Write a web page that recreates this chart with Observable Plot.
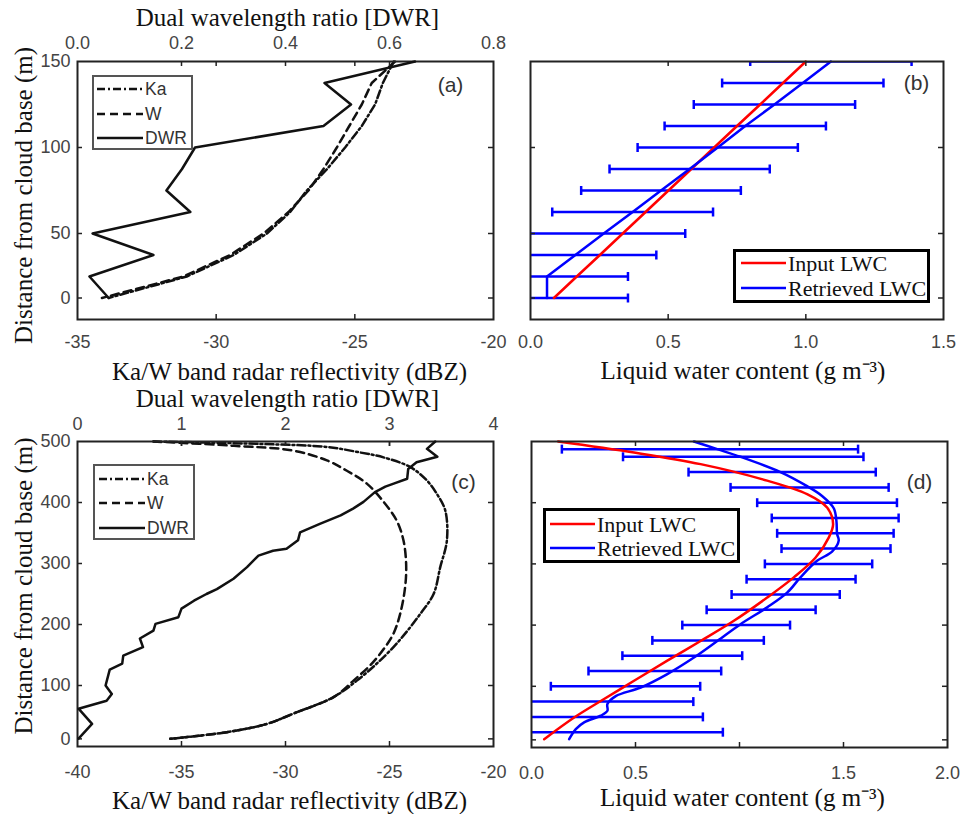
<!DOCTYPE html>
<html><head><meta charset="utf-8">
<script src="https://cdn.jsdelivr.net/npm/d3@7"></script>
<script src="https://cdn.jsdelivr.net/npm/@observablehq/plot@0.6"></script>
<style>
body{margin:0;background:#fff}
#root{position:relative;width:965px;height:814px;overflow:hidden;background:#fff}
</style></head><body><div id="root"></div><script>
// ---------- Panel (a) data ----------
const hA   = [150,137.5,125,112.5,100,87.5,75,62.5,50,37.5,25,12.5];
const dwrA = [0.649,0.475,0.526,0.473,0.226,0.201,0.171,0.217,0.029,0.146,0.023,0.060];
const kaA  = [-23.6,-23.99,-24.27,-24.75,-25.35,-26.0,-26.73,-27.33,-28.17,-29.37,-31.06,-33.88];
const wA   = [-23.55,-24.39,-24.75,-25.2,-25.65,-26.13,-26.67,-27.39,-28.29,-29.5,-31.18,-34.12];
// ---------- Panel (b) data ----------
const hB        = [150,137.5,125,112.5,100,87.5,75,62.5,50,37.5,25,12.5];
const inputB    = [1.00,0.917,0.834,0.75,0.667,0.584,0.501,0.418,0.335,0.252,0.168,0.085];
const retrB     = [1.091,0.989,0.886,0.78,0.68,0.578,0.474,0.371,0.266,0.163,0.06,0.06];
const errB      = [0.293,0.293,0.293,0.293,0.291,0.291,0.29,0.292,0.296,0.294,0.294,0.294];
// ---------- Panel (c) data ----------
const hDwrC = [500,488,475,466,455,439,431,426,417,401,390,379,365,351,338,324,321,313,294,275,258,250,239,226,212,201,190,177,163,149,136,126,100,86,75,62,37,13];
const dwrC  = [3.44,3.36,3.46,3.26,3.18,3.17,3.04,2.96,2.86,2.75,2.65,2.53,2.33,2.14,2.12,2.01,1.88,1.74,1.63,1.5,1.34,1.24,1.12,1.0,0.97,0.75,0.73,0.6,0.63,0.44,0.43,0.31,0.27,0.33,0.28,0.01,0.14,0.01];
const hKaC  = [500,496,491,482,474,458,436,414,387,338,294,250,217,185,163,136,108,81,54,37,23.5,12.6];
const kaC   = [-36.35,-31.22,-28.01,-26.41,-25.29,-24.0,-23.2,-22.72,-22.32,-22.24,-22.56,-22.88,-23.53,-24.25,-24.81,-25.61,-26.57,-27.69,-29.62,-30.9,-32.82,-35.54];
const hWC   = [500,493,485,469,452,431,398,370,338,299,261,217,185,163,136,108,81,54,37,23.5,12.6];
const wC    = [-36.35,-32.5,-29.62,-28.01,-27.05,-26.09,-25.21,-24.65,-24.33,-24.2,-24.25,-24.49,-24.81,-25.21,-25.85,-26.73,-27.69,-29.62,-30.9,-32.82,-35.54];
// ---------- Panel (d) data ----------
const hErrD   = [487.5,475,450,425,400,375,350,325,300,275,250,225,200,175,150,125,100,75,50,25];
const ctrD    = [0.858,1.018,1.205,1.337,1.421,1.46,1.461,1.464,1.38,1.296,1.222,1.104,0.984,0.849,0.725,0.593,0.452,0.381,0.357,0.213];
const errD    = [0.712,0.578,0.45,0.38,0.336,0.305,0.28,0.262,0.258,0.262,0.26,0.262,0.259,0.268,0.288,0.319,0.359,0.397,0.467,0.707];
const hRetrD  = [500,487.5,475,450,427,411,391,370,349,338,320,305,278,253,229,201.5,174,147,120,98,84,71,60,52,41,30,13.6];
const retrD   = [0.781,0.893,1.005,1.197,1.325,1.397,1.453,1.466,1.469,1.477,1.445,1.373,1.293,1.229,1.133,1.005,0.893,0.781,0.653,0.525,0.405,0.365,0.365,0.333,0.253,0.213,0.181];
const hInD    = [500,482,463,436,414,392,365,343,310,278,245,207,174,142,109,76,49,13.6];
const inputD  = [0.128,0.493,0.813,1.133,1.325,1.421,1.45,1.429,1.365,1.261,1.133,0.973,0.813,0.653,0.493,0.333,0.205,0.061];
// ---------- Ticks ----------
const yTicksA = [12.5,50,100,150], yTickLabelsA = ["0","50","100","150"];
const xTicksA = [-35,-30,-25,-20], dwrTicksA = [0,0.2,0.4,0.6,0.8];
const lwcTicksB = [0,0.5,1,1.5];
const yTicksC = [12.5,100,200,300,400,500], yTickLabelsC = ["0","100","200","300","400","500"];
const xTicksC = [-40,-35,-30,-25,-20], dwrTicksC = [0,1,2,3,4];
const lwcTicksD = [0,0.5,1,1.5,2], lwcTickLabelsD = ["0.0","0.5","","1.5","2.0"];

const SERIF = "'Liberation Serif','Times New Roman',serif";
const SANS = "'Liberation Sans',Arial,sans-serif";
const W = 965, H = 814;
const root = document.getElementById("root");
const idx = a => d3.range(a.length);
const vbar = {draw(ctx, size){ const r = Math.sqrt(size/Math.PI); ctx.moveTo(0,-r); ctx.lineTo(0,r); }};
const labelMap = (t, l) => new Map(t.map((d,i)=>[d,l[i]]));

function panel(frame, x, y, marks){
  const [l,t,r,b] = frame;
  const svg = Plot.plot({
    width: W, height: H,
    marginLeft: l, marginTop: t, marginRight: W - r, marginBottom: H - b,
    x: {...x, axis: null}, y: {...y, axis: null},
    style: {background: "transparent", overflow: "visible", fontSize: "18px", fontFamily: SANS},
    marks
  });
  svg.style.position = "absolute"; svg.style.left = "0"; svg.style.top = "0";
  root.appendChild(svg);
}
function innerTicks(frame, xt, yt, {top=true, bottom=true, left=true, right=true}={}){
  const fw = frame[2]-frame[0], fh = frame[3]-frame[1], L = 5;
  const m = [];
  const o = {stroke: "#222", strokeWidth: 1.5};
  if (xt) {
    if (bottom) m.push(Plot.tickX(xt, {x: d=>d, insetTop: fh-L, ...o}));
    if (top) m.push(Plot.tickX(xt, {x: d=>d, insetBottom: fh-L, ...o}));
  }
  if (yt) {
    if (left) m.push(Plot.tickY(yt, {y: d=>d, insetRight: fw-L, ...o}));
    if (right) m.push(Plot.tickY(yt, {y: d=>d, insetLeft: fw-L, ...o}));
  }
  return m;
}
const tickFont = {fontSize: 18, fontFamily: SANS, color: "#444", tickSize: 0, label: null};
function title(text, anchor, dx, dy, rotate=0){
  return Plot.text([text], {text: d=>d, frameAnchor: anchor, dx, dy, rotate, textAnchor: "middle", lineAnchor: "middle", fontFamily: SERIF, fontSize: 25, fill: "#111"});
}
function tag(text, dx, dy){
  return Plot.text([text], {text: d=>d, frameAnchor: "top-right", dx, dy, textAnchor: "middle", lineAnchor: "middle", fontFamily: SANS, fontSize: 21, fill: "#333"});
}

// ===== Panel (a) =====
const FA = [77,61,493,319];
panel(FA, {domain: [-35,-20]}, {domain: [0,150]}, [
  Plot.line(idx(hA), {x: i=>kaA[i], y: i=>hA[i], stroke: "#111", strokeWidth: 2.5, strokeDasharray: "8,3,2,3"}),
  Plot.line(idx(hA), {x: i=>wA[i], y: i=>hA[i], stroke: "#111", strokeWidth: 2.5, strokeDasharray: "8,5"}),
  ...innerTicks(FA, xTicksA.slice(1,3), yTicksA.slice(0,3)),
  Plot.frame({stroke: "#222", strokeWidth: 2}),
  Plot.axisX(xTicksA, {anchor: "bottom", tickPadding: 16, tickFormat: d=>String(d), ...tickFont}),
  Plot.axisY(yTicksA, {anchor: "left", tickPadding: 7, tickFormat: d=>labelMap(yTicksA,yTickLabelsA).get(d), ...tickFont}),
  title("Dual wavelength ratio [DWR]", "top", 2, -44),
  title("Ka/W band radar reflectivity (dBZ)", "bottom", 4, 52),
  title("Distance from cloud base (m)", "left", -54, 5, -90),
  tag("(a)", -43, 24)
]);
panel(FA, {domain: [0,0.8]}, {domain: [0,150]}, [
  Plot.line(idx(hA), {x: i=>dwrA[i], y: i=>hA[i], stroke: "#111", strokeWidth: 2.5}),
  ...innerTicks(FA, dwrTicksA.slice(1,4), null, {bottom: false}),
  Plot.axisX(dwrTicksA, {anchor: "top", tickPadding: 13, tickFormat: d3.format(".1f"), ...tickFont})
]);

// ===== Panel (b) =====
const FB = [530,61,943,319];
panel(FB, {domain: [0,1.5]}, {domain: [0,150]}, [
  Plot.ruleY(idx(hB), {y: i=>hB[i], x1: i=>retrB[i]-errB[i], x2: i=>retrB[i]+errB[i], stroke: "blue", strokeWidth: 2.5, clip: true}),
  Plot.dot(idx(hB), {x: i=>retrB[i]-errB[i], y: i=>hB[i], r: 4.5, symbol: vbar, stroke: "blue", fill: "none", strokeWidth: 2.5, clip: true}),
  Plot.dot(idx(hB), {x: i=>retrB[i]+errB[i], y: i=>hB[i], r: 4.5, symbol: vbar, stroke: "blue", fill: "none", strokeWidth: 2.5, clip: true}),
  Plot.line(idx(hB), {x: i=>inputB[i], y: i=>hB[i], stroke: "red", strokeWidth: 2.5}),
  Plot.line(idx(hB), {x: i=>retrB[i], y: i=>hB[i], stroke: "blue", strokeWidth: 2.5}),
  ...innerTicks(FB, lwcTicksB.slice(1,3), yTicksA.slice(0,3)),
  Plot.frame({stroke: "#222", strokeWidth: 2}),
  Plot.axisX(lwcTicksB, {anchor: "bottom", tickPadding: 16, tickFormat: d3.format(".1f"), ...tickFont}),
  title("Liquid water content (g m\u207B\u00B3)", "bottom", 6, 51),
  tag("(b)", -27, 22)
]);

// ===== Panel (c) =====
const FC = [77,441,493,746];
panel(FC, {domain: [-40,-20]}, {domain: [0,500]}, [
  Plot.line(idx(hKaC), {x: i=>kaC[i], y: i=>hKaC[i], stroke: "#111", strokeWidth: 2.5, strokeDasharray: "8,3,2,3", curve: "catmull-rom"}),
  Plot.line(idx(hWC), {x: i=>wC[i], y: i=>hWC[i], stroke: "#111", strokeWidth: 2.5, strokeDasharray: "8,5", curve: "catmull-rom"}),
  ...innerTicks(FC, xTicksC.slice(1,4), yTicksC.slice(0,5)),
  Plot.frame({stroke: "#222", strokeWidth: 2}),
  Plot.axisX(xTicksC, {anchor: "bottom", tickPadding: 19, tickFormat: d=>String(d), ...tickFont}),
  Plot.axisY(yTicksC, {anchor: "left", tickPadding: 7, tickFormat: d=>labelMap(yTicksC,yTickLabelsC).get(d), ...tickFont}),
  title("Dual wavelength ratio [DWR]", "top", 2, -43),
  title("Ka/W band radar reflectivity (dBZ)", "bottom", 4, 54),
  title("Distance from cloud base (m)", "left", -54, -8, -90),
  tag("(c)", -30, 41)
]);
panel(FC, {domain: [0,4]}, {domain: [0,500]}, [
  Plot.line(idx(hDwrC), {x: i=>dwrC[i], y: i=>hDwrC[i], stroke: "#111", strokeWidth: 2.5}),
  ...innerTicks(FC, dwrTicksC.slice(1,4), null, {bottom: false}),
  Plot.axisX(dwrTicksC, {anchor: "top", tickPadding: 12, tickFormat: d=>String(d), ...tickFont})
]);

// ===== Panel (d) =====
const FD = [531,441,947,747];
panel(FD, {domain: [0,2]}, {domain: [0,500]}, [
  Plot.ruleY(idx(hErrD), {y: i=>hErrD[i], x1: i=>ctrD[i]-errD[i], x2: i=>ctrD[i]+errD[i], stroke: "blue", strokeWidth: 2.5, clip: true}),
  Plot.dot(idx(hErrD), {x: i=>ctrD[i]-errD[i], y: i=>hErrD[i], r: 4.5, symbol: vbar, stroke: "blue", fill: "none", strokeWidth: 2.5, clip: true}),
  Plot.dot(idx(hErrD), {x: i=>ctrD[i]+errD[i], y: i=>hErrD[i], r: 4.5, symbol: vbar, stroke: "blue", fill: "none", strokeWidth: 2.5, clip: true}),
  Plot.line(idx(hRetrD), {x: i=>retrD[i], y: i=>hRetrD[i], stroke: "blue", strokeWidth: 2.5, curve: "catmull-rom"}),
  Plot.line(idx(hInD), {x: i=>inputD[i], y: i=>hInD[i], stroke: "red", strokeWidth: 2.5, curve: "catmull-rom"}),
  ...innerTicks(FD, lwcTicksD.slice(1,4), yTicksC.slice(0,5)),
  Plot.frame({stroke: "#222", strokeWidth: 2}),
  Plot.axisX(lwcTicksD, {anchor: "bottom", tickPadding: 19, tickFormat: d=>labelMap(lwcTicksD,lwcTickLabelsD).get(d), ...tickFont}),
  title("Liquid water content (g m\u207B\u00B3)", "bottom", 3, 50),
  tag("(d)", -28, 41)
]);

// ===== Legends =====
function legend({left, top, width, height, border, borderColor, font, fontSize, items, x0, x1, tx, color}){
  const s = d3.create("svg").attr("width", width).attr("height", height)
    .style("position","absolute").style("left", left+"px").style("top", top+"px");
  s.append("rect").attr("x", border/2).attr("y", border/2).attr("width", width-border).attr("height", height-border)
    .attr("fill","#fff").attr("stroke", borderColor).attr("stroke-width", border);
  for (const it of items){
    s.append("line").attr("x1", x0).attr("x2", x1).attr("y1", it.y).attr("y2", it.y)
      .attr("stroke", it.color).attr("stroke-width", 2.5).attr("stroke-dasharray", it.dash || null);
    s.append("text").attr("x", tx).attr("y", it.y).attr("dominant-baseline","central")
      .attr("font-family", font).attr("font-size", fontSize).attr("fill", color).text(it.label);
  }
  root.appendChild(s.node());
}
const radarItems = (ys) => [
  {label: "Ka", y: ys[0], color: "#111", dash: "8,3,2,3"},
  {label: "W", y: ys[1], color: "#111", dash: "8,5"},
  {label: "DWR", y: ys[2], color: "#111"}
];
legend({left: 92, top: 75, width: 101, height: 75, border: 2, borderColor: "#555", font: SANS, fontSize: 17.5, items: radarItems([14,39,63]), x0: 5, x1: 51, tx: 53, color: "#333"});
legend({left: 93, top: 464, width: 102, height: 76, border: 2, borderColor: "#555", font: SANS, fontSize: 17.5, items: radarItems([15,39,64]), x0: 6, x1: 52, tx: 54, color: "#333"});
const lwcItems = (ys) => [
  {label: "Input LWC", y: ys[0], color: "red"},
  {label: "Retrieved LWC", y: ys[1], color: "blue"}
];
legend({left: 733, top: 249, width: 197, height: 54, border: 3, borderColor: "#000", font: SERIF, fontSize: 22, items: lwcItems([14,39]), x0: 8, x1: 53, tx: 55, color: "#111"});
legend({left: 543, top: 508, width: 197, height: 55, border: 3, borderColor: "#000", font: SERIF, fontSize: 22, items: lwcItems([16,40]), x0: 7, x1: 52, tx: 54, color: "#111"});
</script></body></html>
